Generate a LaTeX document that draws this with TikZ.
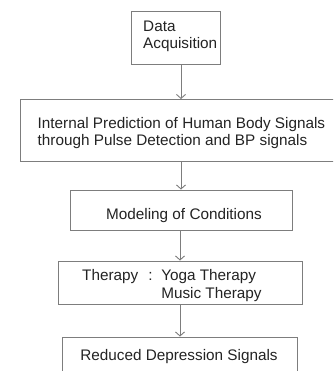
\documentclass[tikz,border=0pt]{standalone}
\usepackage{fontspec}
\setmainfont{Liberation Sans}
\usetikzlibrary{arrows.meta}
\definecolor{boxgray}{RGB}{125,125,125}
\definecolor{txt}{RGB}{35,35,35}
\begin{document}
\begin{tikzpicture}[x=1pt,y=-1pt,
  box/.style={draw=boxgray,line width=0.9pt,rectangle,inner sep=0pt,fill=white},
  lbl/.style={inner sep=0pt,text=txt,font=\fontsize{15.3}{16.5}\selectfont},
  arr/.style={draw=boxgray,line width=0.9pt,-{Straight Barb[length=4pt,width=9pt,line width=0.9pt]}}]
\useasboundingbox (0,0) rectangle (333,371);
\clip (0,0) rectangle (333,371);
\fill[white] (0,0) rectangle (333,371);
% boxes
\node[box,minimum width=89pt,minimum height=53pt] (da) at (175.5,37.8) {};
\node[box,minimum width=324pt,minimum height=62pt] (ip) at (182,130.5) {};
\node[box,minimum width=222pt,minimum height=40pt] (mc) at (181,210) {};
\node[box,minimum width=244pt,minimum height=43pt] (th) at (180,282.5) {};
\node[box,minimum width=234.5pt,minimum height=60pt] (rd) at (180,367) {};
% texts
\node[lbl,align=left,anchor=west] (datxt) at (143,36.5) {Data\\Acquisition};
\node[lbl,align=left,anchor=west] (iptxt) at (37.5,133) {Internal Prediction of Human Body Signals\\through Pulse Detection and BP signals};
\node[lbl] (mctxt) at (184,215.5) {Modeling of Conditions};
\node[lbl,anchor=west] (thtxt) at (82,285.5) {\renewcommand\arraystretch{1}\fontsize{15.3}{18}\selectfont\begin{tabular}{@{}l@{\hspace{10pt}}l@{\hspace{8.7pt}}l@{}}Therapy & : & Yoga Therapy\\ & & Music Therapy\end{tabular}};
\node[lbl] (rdtxt) at (179,357) {Reduced Depression Signals};
% connectors
\coordinate (c1) at (181,0);
\coordinate (c2) at (180,0);
\draw[arr] (da.south -| c1) -- (ip.north -| c1);
\draw[arr] (ip.south -| c1) -- (mc.north -| c1);
\draw[arr] (mc.south -| c2) -- (th.north -| c2);
\draw[arr] (th.south -| c2) -- (rd.north -| c2);
\end{tikzpicture}
\end{document}
